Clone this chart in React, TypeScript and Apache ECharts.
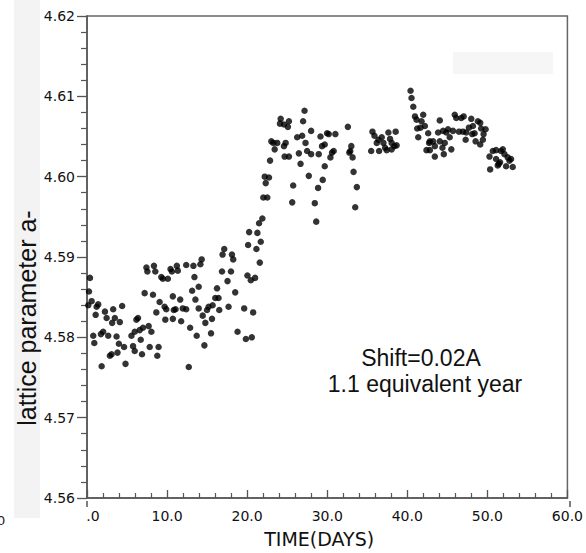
import React, { useEffect, useRef } from "react";
import * as echarts from "echarts";

// Day 0 – 11 : initial scatter around 4.58
const earlyPoints: [number, number][] = [
  [0.37, 4.5874], [0.25, 4.5857], [0.58, 4.5845], [0.16, 4.584], [1.4, 4.5841], [1.2, 4.5838],
  [1.08, 4.5828], [2.24, 4.5832], [2.45, 4.5824], [3.27, 4.5835], [3.48, 4.5824], [3.14, 4.5818],
  [4.1, 4.5819], [4.39, 4.5839], [0.78, 4.5802], [0.91, 4.5793], [1.74, 4.5804], [2.02, 4.5807],
  [2.65, 4.5802], [3.69, 4.5801], [3.98, 4.5792], [4.63, 4.5788], [3.81, 4.5781], [3.07, 4.5779],
  [2.86, 4.5777], [1.83, 4.5764], [4.81, 4.5767], [5.55, 4.5802], [5.75, 4.5789], [5.96, 4.5783],
  [6.17, 4.5822], [6.37, 4.5824], [5.96, 4.5807], [6.58, 4.5809], [6.71, 4.5797], [6.99, 4.5812],
  [6.87, 4.5779], [7.7, 4.5814], [8.04, 4.5807], [7.83, 4.5788], [8.94, 4.5788], [8.78, 4.5777],
  [7.2, 4.5855], [8.24, 4.5853], [8.66, 4.5831], [9.07, 4.5844], [9.69, 4.5838], [9.9, 4.5835],
  [9.78, 4.5822], [10.72, 4.5823], [7.42, 4.5887], [7.54, 4.5882], [8.36, 4.5889], [8.53, 4.5882],
  [9.28, 4.5875], [9.48, 4.5873], [10.1, 4.5873], [10.43, 4.5885], [10.6, 4.5882], [10.72, 4.5851],
  [10.84, 4.5834],
];

// Day 11 – 22 : rising scatter
const rampPoints: [number, number][] = [
  [11.22, 4.5889], [11.34, 4.5883], [12.39, 4.589], [13.29, 4.5889], [14.16, 4.5891], [14.32, 4.5897],
  [13.42, 4.5875], [13.13, 4.5858], [13.95, 4.5863], [11.64, 4.5847], [13.54, 4.5847], [11.06, 4.5835],
  [11.96, 4.5836], [12.39, 4.5835], [13.95, 4.5836], [11.76, 4.582], [12.88, 4.5812], [13.7, 4.5802],
  [14.66, 4.579], [12.71, 4.5763], [14.78, 4.5818], [14.45, 4.5827], [14.99, 4.5834], [15.19, 4.5838],
  [15.61, 4.5823], [15.49, 4.5805], [15.69, 4.584], [16.02, 4.5849], [16.43, 4.5849], [16.24, 4.5861],
  [16.52, 4.5834], [17.68, 4.5838], [18.51, 4.5856], [17.55, 4.587], [17.98, 4.5882], [16.86, 4.5882],
  [16.93, 4.5903], [17.14, 4.591], [18.1, 4.5903], [18.26, 4.5897], [20.12, 4.5915], [21.16, 4.591],
  [21.7, 4.5919], [21.58, 4.5893], [20.04, 4.5877], [20.46, 4.5871], [20.99, 4.5874], [19.63, 4.5836],
  [20.75, 4.5831], [18.8, 4.5807], [19.84, 4.5798], [20.58, 4.58], [20.25, 4.5931], [21.28, 4.593],
  [21.49, 4.5942], [21.9, 4.5948],
];

// Day 22 – 34 : jump to ~4.604
const plateauPoints: [number, number][] = [
  [22.02, 4.5974], [22.52, 4.5974], [22.32, 4.5992], [22.2, 4.6], [22.73, 4.5999], [22.86, 4.602],
  [23.02, 4.6044], [23.27, 4.6042], [23.44, 4.6034], [23.76, 4.6042], [24.81, 4.6042], [24.6, 4.6038],
  [24.68, 4.6025], [25.22, 4.6025], [24.1, 4.6066], [24.19, 4.6072], [24.6, 4.6065], [25.22, 4.6069],
  [25.09, 4.6062], [25.75, 4.5989], [25.63, 4.5968], [26.25, 4.6049], [26.87, 4.6051], [26.67, 4.6016],
  [26.46, 4.6029], [27.29, 4.6042], [27.49, 4.6032], [27.99, 4.6028], [27.7, 4.6001], [26.99, 4.6069],
  [27.17, 4.6082], [27.99, 4.6057], [29.16, 4.605], [29.98, 4.6054], [30.19, 4.6053], [31.02, 4.6053],
  [29.35, 4.6038], [29.69, 4.604], [28.94, 4.6028], [30.6, 4.603], [30.4, 4.6024], [30.81, 4.6032],
  [29.69, 4.6013], [29.44, 4.5996], [28.86, 4.5986], [28.45, 4.5967], [28.63, 4.5944], [32.58, 4.6062],
  [33.01, 4.6038], [32.88, 4.6032], [32.76, 4.603], [33.17, 4.6024], [33.29, 4.6006], [33.7, 4.5987],
  [33.5, 4.5962],
];

// Day 35 – 54 : late plateau
const latePoints: [number, number][] = [
  [35.65, 4.6056], [35.9, 4.6051], [36.19, 4.6042], [36.4, 4.6046], [36.81, 4.6049], [37.02, 4.6042],
  [37.23, 4.6036], [37.64, 4.6055], [37.85, 4.6047], [38.05, 4.6042], [38.39, 4.6038], [38.55, 4.6056],
  [35.49, 4.6032], [36.48, 4.6032], [37.43, 4.6033], [38.05, 4.6034], [38.67, 4.6039],
  [40.41, 4.6107], [40.53, 4.6098], [40.75, 4.6087], [40.96, 4.6075], [41.16, 4.6071], [41.99, 4.6077],
  [41.78, 4.6069], [42.2, 4.6063], [41.24, 4.606], [41.65, 4.6061], [41.37, 4.6049], [42.61, 4.6054],
  [42.82, 4.6044], [42.73, 4.6042], [43.23, 4.6044], [44.06, 4.607], [43.85, 4.6055], [44.47, 4.6057],
  [44.88, 4.6055], [45.09, 4.6059], [45.71, 4.6057], [43.44, 4.6038], [44.06, 4.6044], [44.68, 4.6042],
  [42.4, 4.6033], [42.82, 4.6033], [43.44, 4.6025], [44.56, 4.6028], [44.39, 4.6036], [45.5, 4.6034],
  [45.3, 4.6049], [45.93, 4.6077], [46.12, 4.6073], [46.74, 4.6073], [47.04, 4.6075], [46.46, 4.6056],
  [46.96, 4.6056], [47.37, 4.6055], [47.29, 4.6046], [47.99, 4.6072], [48.2, 4.6063], [47.7, 4.6061],
  [48.82, 4.6069], [49.11, 4.6067], [49.23, 4.606], [48.41, 4.6054], [48.53, 4.6044], [48.11, 4.6053],
  [49.78, 4.6059], [49.53, 4.6053], [49.44, 4.6046], [49.11, 4.604], [50.27, 4.6025], [50.68, 4.6032],
  [51.09, 4.6033], [51.71, 4.6032], [51.93, 4.6034], [51.09, 4.6022], [51.3, 4.6014], [51.59, 4.6018],
  [52.14, 4.6028], [52.55, 4.6024], [52.76, 4.602], [52.96, 4.6022], [53.17, 4.6012], [52.34, 4.6013],
  [51.43, 4.6016], [50.35, 4.6009],
];

const xMin = 0;
const xMax = 60;
const xStep = 10;
const yMin = 4.56;
const yMax = 4.62;
const yStep = 0.01;

const xTitle = "TIME(DAYS)";
const yTitle = "lattice parameter a-";
const noteLines = ["Shift=0.02A", "1.1 equivalent year"];

export default function App() {
  const ref = useRef<HTMLDivElement>(null);

  useEffect(() => {
    if (!ref.current) return;
    const chart = echarts.init(ref.current, null, { renderer: "svg" });
    const axisColor = "#555";
    const tickFont = "DejaVu Sans";
    const gridL = 87;
    const gridR = 16;
    const gridT = 16;
    const gridB = 52;
    const W = 586;
    const H = 553;
    chart.setOption({
      animation: false,
      backgroundColor: "#fff",
      grid: {
        left: gridL,
        right: gridR,
        top: gridT,
        bottom: gridB,
        show: true,
        borderColor: "#666",
        borderWidth: 1.5,
      },
      xAxis: {
        type: "value",
        min: xMin,
        max: xMax,
        interval: xStep,
        axisLine: { show: true, lineStyle: { color: axisColor, width: 1.5 } },
        axisTick: { show: true, inside: true, length: 8, lineStyle: { color: axisColor, width: 1.3 } },
        minorTick: { show: true, splitNumber: 5, length: 5, lineStyle: { color: axisColor, width: 1.2 } },
        splitLine: { show: false },
        axisLabel: {
          margin: 11,
          fontSize: 14,
          color: "#111",
          fontFamily: tickFont,
          formatter: (v: number) => (v === 0 ? "{z|.0}" : v.toFixed(1)),
          rich: { z: { fontSize: 14, fontFamily: tickFont, color: "#111", padding: [0, 0, 0, 12] } },
        },
        name: xTitle,
        nameLocation: "middle",
        nameGap: 31,
        nameTextStyle: {
          fontSize: 19,
          fontFamily: "DejaVu Sans",
          color: "#111",
          padding: [0, 16, 0, 0],
        },
      },
      yAxis: {
        type: "value",
        min: yMin,
        max: yMax,
        interval: yStep,
        axisLine: { show: true, lineStyle: { color: axisColor, width: 1.5 } },
        axisTick: { show: true, inside: false, length: 10, lineStyle: { color: axisColor, width: 1.3 } },
        minorTick: { show: true, splitNumber: 5, length: 6, lineStyle: { color: axisColor, width: 1.2 } },
        splitLine: { show: false },
        axisLabel: {
          margin: 12,
          fontSize: 14,
          color: "#111",
          fontFamily: tickFont,
          formatter: (v: number) => v.toFixed(2),
        },
      },
      graphic: [
        { type: "rect", z: 0, shape: { x: 14, y: 0, width: 26, height: 518 }, style: { fill: "#f3f3f3" } },
        { type: "rect", z: 0, shape: { x: 453, y: 52, width: 100, height: 22 }, style: { fill: "#f6f6f6" } },
        {
          type: "line",
          z: 4,
          shape: { x1: gridL, y1: H - gridB, x2: gridL, y2: H - gridB + 6 },
          style: { stroke: axisColor, lineWidth: 1.5 },
        },
        {
          type: "line",
          z: 4,
          shape: { x1: W - gridR, y1: H - gridB, x2: W - gridR, y2: H - gridB + 6 },
          style: { stroke: axisColor, lineWidth: 1.5 },
        },
        {
          type: "text",
          z: 5,
          x: -3,
          y: 520,
          style: { text: "0", fontSize: 13, fontFamily: tickFont, fill: "#222", textVerticalAlign: "middle", textAlign: "left" },
        },
        {
          type: "text",
          z: 5,
          x: 27,
          y: 318,
          rotation: Math.PI / 2,
          style: {
            text: yTitle,
            fontSize: 25,
            fontFamily: "Liberation Sans",
            fill: "#111",
            textAlign: "center",
            textVerticalAlign: "middle",
          },
        },
        {
          type: "text",
          z: 5,
          x: 421,
          y: 358,
          style: {
            text: noteLines[0],
            fontSize: 23,
            fontFamily: "Liberation Sans",
            fill: "#111",
            textAlign: "center",
            textVerticalAlign: "middle",
          },
        },
        {
          type: "text",
          z: 5,
          x: 425,
          y: 384,
          style: {
            text: noteLines[1],
            fontSize: 23,
            fontFamily: "Liberation Sans",
            fill: "#111",
            textAlign: "center",
            textVerticalAlign: "middle",
          },
        },
      ],
      series: [
        {
          type: "scatter",
          symbol: "circle",
          symbolSize: 6.5,
          itemStyle: { color: "#000" },
          data: [...earlyPoints, ...rampPoints, ...plateauPoints, ...latePoints],
          z: 3,
        },
      ],
    });
    return () => chart.dispose();
  }, []);

  return (
    <div
      ref={ref}
      style={{ position: "absolute", left: 0, top: 0, width: 586, height: 553, background: "#fff" }}
    />
  );
}
